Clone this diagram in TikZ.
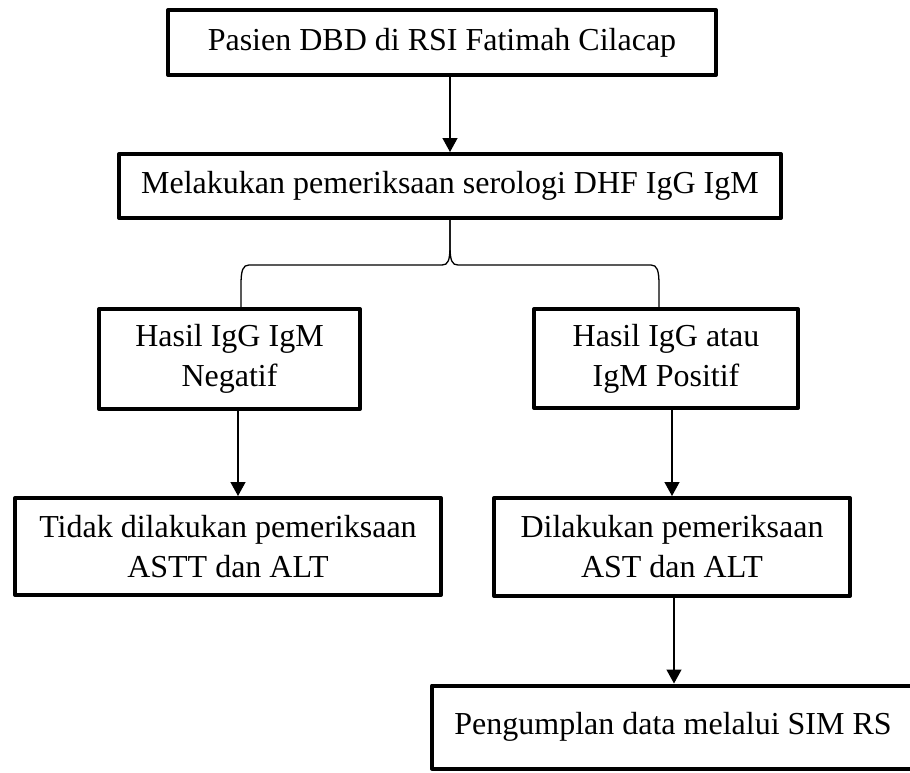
\documentclass[tikz,border=0pt]{standalone}
\usepackage{fontspec}
\setmainfont{Liberation Serif}
\usetikzlibrary{arrows.meta}
\begin{document}
\begin{tikzpicture}[x=1pt,y=-1pt,
  box/.style={draw=black,line width=4pt,inner sep=0pt,align=center,
    font=\fontsize{32}{40}\selectfont,line join=round},
  conn/.style={draw=black,line width=1.3pt},
  arr/.style={conn,-{Triangle[width=15pt,length=14pt]}}]
\useasboundingbox (0,0) rectangle (910,772);
\node[box,minimum width=548pt,minimum height=65pt] (b1) at (442,42.5) {Pasien DBD di RSI Fatimah Cilacap};
\node[box,minimum width=662pt,minimum height=64pt] (b2) at (450,186) {Melakukan pemeriksaan serologi DHF IgG IgM};
\node[box,minimum width=261pt,minimum height=100pt] (b3) at (229.5,359) {Hasil IgG IgM\\Negatif};
\node[box,minimum width=264pt,minimum height=99pt] (b4) at (666,358.5) {Hasil IgG atau\\IgM Positif};
\node[box,minimum width=426pt,minimum height=97pt] (b5) at (228,546.5) {Tidak dilakukan pemeriksaan\\ASTT dan ALT};
\node[box,minimum width=356pt,minimum height=98pt] (b6) at (672,547) {Dilakukan pemeriksaan\\AST dan ALT};
\node[box,minimum width=482pt,minimum height=83pt] (b7) at (673,727) {Pengumplan data melalui SIM RS};
\coordinate (x1) at (450,0);
\coordinate (x2) at (238,0);
\coordinate (x3) at (672,0);
\coordinate (x4) at (674,0);
\coordinate (bl) at (241,0);
\coordinate (br) at (659,0);
\draw[arr] (b1.south -| x1) -- (b2.north -| x1);
\draw[arr] (b3.south -| x2) -- (b5.north -| x2);
\draw[arr] (b4.south -| x3) -- (b6.north -| x3);
\draw[arr] (b6.south -| x4) -- (b7.north -| x4);
\draw[conn] (b2.south) -- (450,245) .. controls (450,261) and (448,265) .. (442,265) -- (249,265) .. controls (243,265) and (241,270) .. (241,285) -- (b3.north -| bl);
\draw[conn] (b2.south) -- (450,245) .. controls (450,261) and (452,265) .. (458,265) -- (651,265) .. controls (657,265) and (659,270) .. (659,285) -- (b4.north -| br);
\end{tikzpicture}
\end{document}
